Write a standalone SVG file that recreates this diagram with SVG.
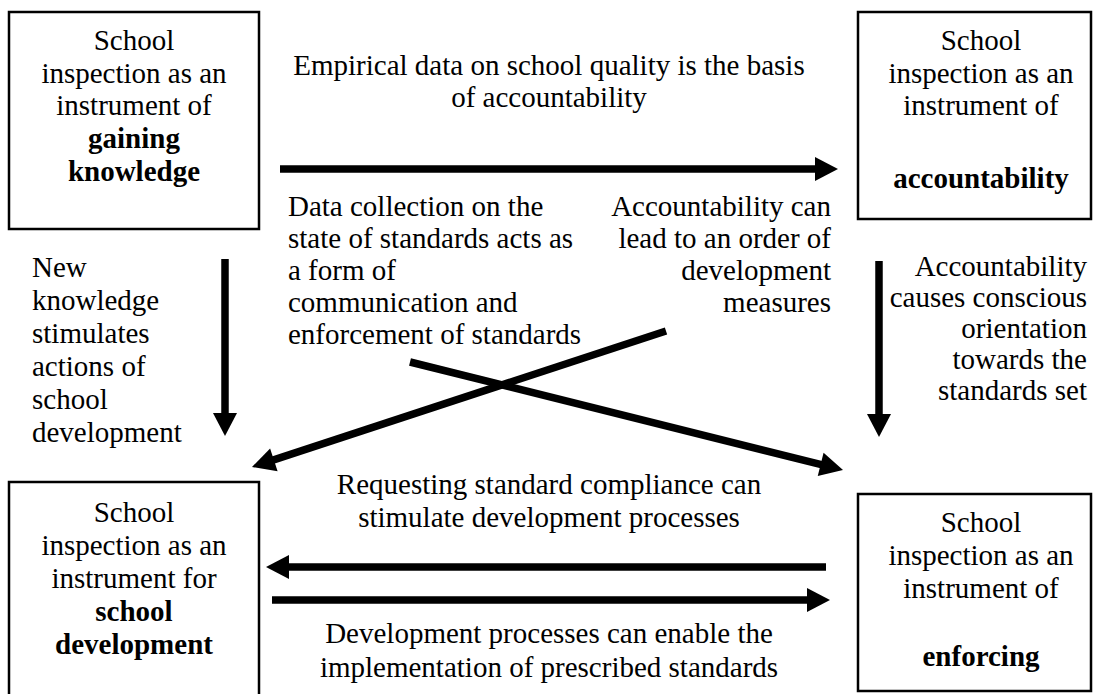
<svg xmlns="http://www.w3.org/2000/svg" width="1094" height="694" viewBox="0 0 1094 694">
<style>
.box{fill:#fff;stroke:#000;stroke-width:2.5}
text{font-family:"Liberation Serif","Times New Roman",serif;font-size:29px;fill:#000}
.c{text-anchor:middle}
.r{text-anchor:end}
.b{font-weight:bold}
.arr{stroke:#000;stroke-width:7.5;fill:none;marker-end:url(#ah)}
</style>
<defs>
<marker id="ah" markerUnits="userSpaceOnUse" markerWidth="24" markerHeight="26" refX="9" refY="12" orient="auto" overflow="visible">
<path d="M0,0 L23,12 L0,24 Z" fill="#000"/>
</marker>
</defs>
<rect width="1094" height="694" fill="#fff"/>
<g id="node-knowledge">
<rect class="box" x="9" y="12" width="250" height="217"/>
<text class="c" x="134" y="50">School</text>
<text class="c" x="134" y="83">inspection as an</text>
<text class="c" x="134" y="115">instrument of</text>
<text class="c b" x="134" y="148">gaining</text>
<text class="c b" x="134" y="181">knowledge</text>
</g>
<g id="node-accountability">
<rect class="box" x="858" y="12" width="233" height="207"/>
<text class="c" x="981" y="50">School</text>
<text class="c" x="981" y="83">inspection as an</text>
<text class="c" x="981" y="115">instrument of</text>
<text class="c b" x="981" y="188">accountability</text>
</g>
<g id="node-development">
<rect class="box" x="9" y="482" width="250" height="215"/>
<text class="c" x="134" y="522">School</text>
<text class="c" x="134" y="555">inspection as an</text>
<text class="c" x="134" y="588">instrument for</text>
<text class="c b" x="134" y="621">school</text>
<text class="c b" x="134" y="654">development</text>
</g>
<g id="node-enforcing">
<rect class="box" x="858" y="494" width="233" height="197"/>
<text class="c" x="981" y="532">School</text>
<text class="c" x="981" y="565">inspection as an</text>
<text class="c" x="981" y="598">instrument of</text>
<text class="c b" x="981" y="666">enforcing</text>
</g>
<g id="connectors">
<line class="arr" x1="280" y1="169" x2="824" y2="169"/>
<line class="arr" x1="225" y1="259" x2="225" y2="422"/>
<line class="arr" x1="879" y1="261" x2="879" y2="423"/>
<line class="arr" x1="666" y1="331" x2="265.3" y2="462.6"/>
<line class="arr" x1="410" y1="362" x2="829.4" y2="466.6"/>
<line class="arr" x1="826" y1="567" x2="280" y2="567"/>
<line class="arr" x1="272" y1="600" x2="816" y2="600"/>
</g>
<g id="labels">
<text class="c" x="549" y="75">Empirical data on school quality is the basis</text>
<text class="c" x="549" y="107">of accountability</text>
<text x="32" y="277">New</text>
<text x="32" y="310">knowledge</text>
<text x="32" y="343">stimulates</text>
<text x="32" y="376">actions of</text>
<text x="32" y="409">school</text>
<text x="32" y="442">development</text>
<text class="r" x="1087" y="276">Accountability</text>
<text class="r" x="1087" y="307">causes conscious</text>
<text class="r" x="1087" y="338">orientation</text>
<text class="r" x="1087" y="369">towards the</text>
<text class="r" x="1087" y="400">standards set</text>
<text x="288" y="216">Data collection on the</text>
<text x="288" y="248">state of standards acts as</text>
<text x="288" y="280">a form of</text>
<text x="288" y="312">communication and</text>
<text x="288" y="344">enforcement of standards</text>
<text class="r" x="831" y="216">Accountability can</text>
<text class="r" x="831" y="248">lead to an order of</text>
<text class="r" x="831" y="280">development</text>
<text class="r" x="831" y="312">measures</text>
<text class="c" x="549" y="494">Requesting standard compliance can</text>
<text class="c" x="549" y="527">stimulate development processes</text>
<text class="c" x="549" y="643">Development processes can enable the</text>
<text class="c" x="549" y="677">implementation of prescribed standards</text>
</g>
</svg>
